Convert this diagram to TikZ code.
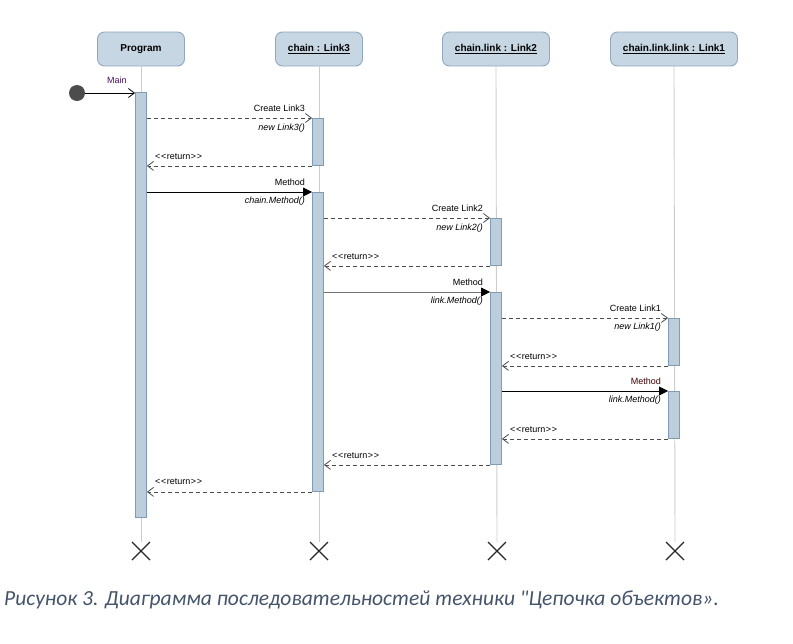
\documentclass[tikz,border=0pt]{standalone}
\usepackage{fontspec}
\setmainfont{Liberation Sans}
\newfontfamily\capfont{Carlito}
\usetikzlibrary{arrows.meta,calc}
\definecolor{hdrfill}{HTML}{C6D6E3}
\definecolor{hdrdraw}{HTML}{8FA8BF}
\definecolor{barfill}{HTML}{BCCDDB}
\definecolor{bardraw}{HTML}{7F9BB6}
\definecolor{lifec}{HTML}{CCCCCC}
\definecolor{capc}{HTML}{44546A}
\definecolor{mainc}{HTML}{4A1060}
\newcommand{\rtn}{{<}\kern0.6pt{<}\kern0.6pt return\kern0.6pt{>}\kern0.6pt{>}}
\begin{document}
\begin{tikzpicture}[x=1pt,y=-1pt,
  hdr/.style={draw=hdrdraw,fill=hdrfill,line width=0.9pt,rounded corners=7pt,minimum height=34pt,inner sep=0pt,font=\fontsize{10}{12}\selectfont\bfseries},
  bar/.style={draw=bardraw,fill=barfill,line width=0.9pt,minimum width=11pt,inner sep=0pt,anchor=north},
  life/.style={draw=lifec,line width=0.9pt},
  callmsg/.style={draw=black!70,dash pattern=on 4pt off 3pt,line width=0.8pt,-{Straight Barb[length=6pt,width=9pt]}},
  retmsg/.style={draw=black!70,dash pattern=on 4pt off 3pt,line width=0.8pt,-{Straight Barb[length=6pt,width=9pt]}},
  syncmsg/.style={draw=black,line width=0.8pt,-{Triangle[length=9pt,width=9pt,color=black]}},
  lbl/.style={font=\fontsize{9}{11}\selectfont,inner sep=1pt},
  ilbl/.style={font=\fontsize{9}{11}\selectfont\itshape,inner sep=1pt},
  endx/.style={draw=black!85,line width=1.1pt}]
\useasboundingbox (0,0) rectangle (793,643);
% headers
\node[hdr,minimum width=87pt] (hp) at (141,49) {Program};
\node[hdr,minimum width=87pt] (h3) at (319,49) {\underline{chain : Link3}};
\node[hdr,minimum width=107pt] (h2) at (496,49) {\underline{chain.link : Link2}};
\node[hdr,minimum width=127pt] (h1) at (674,49) {\underline{chain.link.link : Link1}};
% end markers
\coordinate (ep) at (141,551);
\coordinate (e3) at (319,551);
\coordinate (e2) at (497,551);
\coordinate (e1) at (675,551);
% lifelines
\draw[life] (hp.south) -- ($(ep)+(0,-9)$);
\draw[life] (h3.south) -- ($(e3)+(0,-9)$);
\draw[life] (h2.south) -- ($(e2)+(0,-9)$);
\draw[life] (h1.south) -- ($(e1)+(0,-9)$);
% X marks
\foreach \e in {ep,e3,e2,e1}{
  \draw[endx] ($(\e)+(-9,-9)$) -- ($(\e)+(9,9)$);
  \draw[endx] ($(\e)+(-9,9)$) -- ($(\e)+(9,-9)$);
}
% activation bars
\node[bar,minimum height=425pt] (bp) at (141,92) {};
\node[bar,minimum height=47pt] (b3a) at (318,118) {};
\node[bar,minimum height=299pt] (b3b) at (318,192) {};
\node[bar,minimum height=47pt] (b2a) at (496,218) {};
\node[bar,minimum height=172pt] (b2b) at (496,292) {};
\node[bar,minimum height=47pt] (b1a) at (674,318) {};
\node[bar,minimum height=47pt] (b1b) at (674,391) {};
% start
\node[circle,fill=black!70,minimum size=16pt,inner sep=0pt] (start) at (77,93) {};
\draw[draw=black,line width=0.8pt,-{Straight Barb[length=6pt,width=9pt]}] (start.east) -- (bp.north west |- start.east);
\node[lbl,text=mainc,anchor=south] at (117,85) {Main};
% Create Link3
\draw[callmsg] (bp.east |- b3a.north) -- (b3a.north west);
\node[lbl,anchor=south east] at ($(b3a.north west)+(-6,-5)$) {Create Link3};
\node[ilbl,anchor=north east] at ($(b3a.north west)+(-6,5)$) {new Link3()};
\draw[retmsg] (b3a.south west) -- (bp.east |- b3a.south);
\node[lbl,anchor=south west] at ($(bp.east |- b3a.south)+(7,-5)$) {\rtn};
% Method chain
\draw[syncmsg] (bp.east |- b3b.north) -- (b3b.north west);
\node[lbl,anchor=south east] at ($(b3b.north west)+(-6,-5)$) {Method};
\node[ilbl,anchor=north east] at ($(b3b.north west)+(-6,4)$) {chain.Method()};
% Create Link2
\draw[callmsg] (b3b.east |- b2a.north) -- (b2a.north west);
\node[lbl,anchor=south east] at ($(b2a.north west)+(-6,-5)$) {Create Link2};
\node[ilbl,anchor=north east] at ($(b2a.north west)+(-6,5)$) {new Link2()};
\draw[retmsg] (b2a.south west) -- (b3b.east |- b2a.south);
\node[lbl,anchor=south west] at ($(b3b.east |- b2a.south)+(7,-5)$) {\rtn};
% Method link (Link2)
\draw[syncmsg,draw=black!55] (b3b.east |- b2b.north) -- (b2b.north west);
\node[lbl,anchor=south east] at ($(b2b.north west)+(-6,-5)$) {Method};
\node[ilbl,anchor=north east] at ($(b2b.north west)+(-6,4)$) {link.Method()};
% Create Link1
\draw[callmsg] (b2b.east |- b1a.north) -- (b1a.north west);
\node[lbl,anchor=south east] at ($(b1a.north west)+(-6,-5)$) {Create Link1};
\node[ilbl,anchor=north east] at ($(b1a.north west)+(-6,4)$) {new Link1()};
\draw[retmsg] (b1a.south west) -- (b2b.east |- b1a.south);
\node[lbl,anchor=south west] at ($(b2b.east |- b1a.south)+(7,-5)$) {\rtn};
% Method link (Link1)
\draw[syncmsg] (b2b.east |- b1b.north) -- (b1b.north west);
\node[lbl,anchor=south east,text=black!75!red] at ($(b1b.north west)+(-6,-5)$) {Method};
\node[ilbl,anchor=north east] at ($(b1b.north west)+(-6,4)$) {link.Method()};
\draw[retmsg] (b1b.south west) -- (b2b.east |- b1b.south);
\node[lbl,anchor=south west] at ($(b2b.east |- b1b.south)+(7,-5)$) {\rtn};
% returns back
\draw[retmsg] (b2b.south west) -- (b3b.east |- b2b.south);
\node[lbl,anchor=south west] at ($(b3b.east |- b2b.south)+(7,-5)$) {\rtn};
\draw[retmsg] (b3b.south west) -- (bp.east |- b3b.south);
\node[lbl,anchor=south west] at ($(bp.east |- b3b.south)+(7,-6)$) {\rtn};
% caption
\node[anchor=west,inner sep=0pt,text=capc,font=\capfont\itshape\fontsize{21.5}{25}\selectfont] (cap) at (4,600) {Рисунок 3. Диаграмма последовательностей техники "Цепочка объектов».};
\end{tikzpicture}
\end{document}
